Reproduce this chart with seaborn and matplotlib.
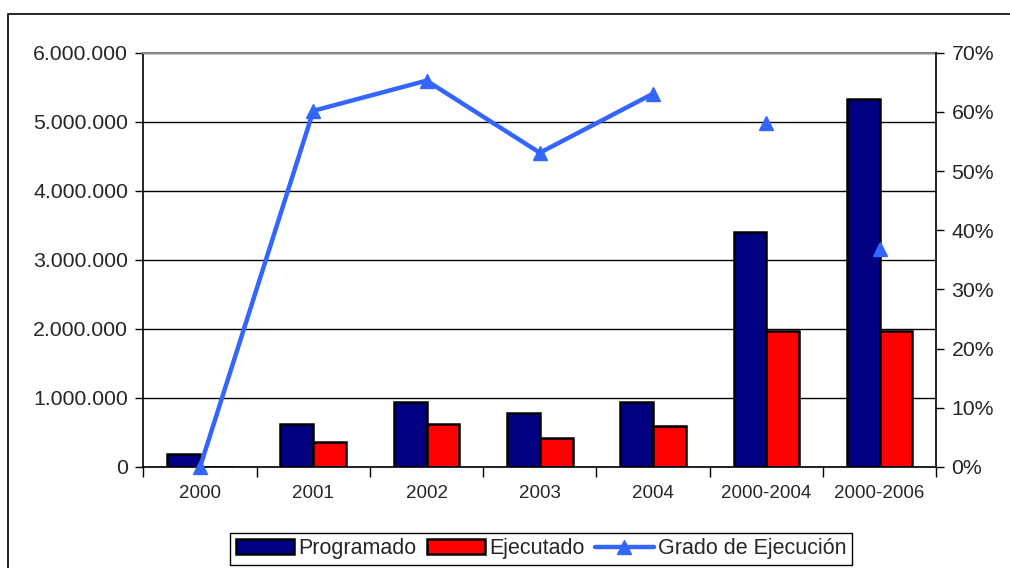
import matplotlib
matplotlib.use("Agg")
import matplotlib.pyplot as plt
from matplotlib.patches import Patch, Rectangle
from matplotlib.lines import Line2D
from matplotlib.ticker import FuncFormatter, FixedLocator
import seaborn as sns
import pandas as pd
import numpy as np

# Data
periodos = ["2000", "2001", "2002", "2003", "2004", "2000-2004", "2000-2006"]
programado = [185000, 617000, 946000, 777000, 936000, 3405000, 5330000]
ejecutado = [0, 367000, 628000, 415000, 588000, 1970000, 1970000]
grado = [0.0, 0.602, 0.653, 0.531, 0.631, 0.581, 0.368]

COLORS = {"prog": "#000080", "ejec": "#FF0000", "grado": "#3366FF"}

sns.set_theme(style="white")
plt.rcParams["font.family"] = ["Liberation Sans", "DejaVu Sans"]

df = pd.DataFrame({
    "periodo": periodos * 2,
    "valor": programado + ejecutado,
    "serie": ["Programado"] * len(periodos) + ["Ejecutado"] * len(periodos),
})

fig = plt.figure(figsize=(10.1, 5.68), dpi=100)
ax = fig.add_axes([0.142, 0.178, 0.785, 0.729])

sns.barplot(data=df, x="periodo", y="valor", hue="serie", order=periodos,
            palette=[COLORS["prog"], COLORS["ejec"]], width=0.58, gap=0,
            edgecolor="black", linewidth=1.8, saturation=1, legend=False, ax=ax)

ax.set_ylim(0, 6000000)
ax.set_xlim(-0.5, len(periodos) - 0.5)
ax.set_yticks(np.arange(0, 6000001, 1000000))
ax.yaxis.set_major_formatter(FuncFormatter(lambda v, p: f"{int(v):,}".replace(",", ".")))
ax.set_xlabel("")
ax.set_ylabel("")
ax.set_axisbelow(True)
ax.yaxis.grid(True, color="black", linewidth=1)

# category boundaries as tick marks
ax.xaxis.set_minor_locator(FixedLocator(np.arange(-0.5, len(periodos), 1.0)))
ax.tick_params(axis="x", which="major", length=0, labelsize=13.5, pad=13)
ax.tick_params(axis="x", which="minor", length=7, width=1, color="black", direction="out", bottom=True)
ax.tick_params(axis="y", length=6, width=1, color="black", direction="out", left=True, labelsize=15.3, pad=5)

for s in ["left", "bottom"]:
    ax.spines[s].set_color("black")
    ax.spines[s].set_linewidth(1.2)
ax.spines["top"].set_color("#888888")
ax.spines["top"].set_linewidth(1.5)
ax.spines["right"].set_visible(False)

# right axis: grado de ejecucion
ax2 = ax.twinx()
x = np.arange(len(periodos))
ax2.plot(x[:5], grado[:5], color=COLORS["grado"], linewidth=3.2,
         marker="^", markersize=10, clip_on=False)
ax2.plot(x[5:], grado[5:], color=COLORS["grado"], linestyle="none",
         marker="^", markersize=10, clip_on=False)
ax2.set_ylim(0, 0.7)
ax2.set_yticks(np.arange(0, 0.71, 0.1))
ax2.yaxis.set_major_formatter(FuncFormatter(lambda v, p: f"{v * 100:.0f}%"))
ax2.tick_params(axis="y", length=6, width=1, color="black", direction="out", right=True, labelsize=15.3, pad=5)
for s in ["left", "top", "bottom"]:
    ax2.spines[s].set_visible(False)
ax2.spines["right"].set_color("black")
ax2.spines["right"].set_linewidth(1.2)

handles = [
    Patch(facecolor=COLORS["prog"], edgecolor="black", linewidth=1.8, label="Programado"),
    Patch(facecolor=COLORS["ejec"], edgecolor="black", linewidth=1.8, label="Ejecutado"),
    Line2D([], [], color=COLORS["grado"], linewidth=3.2, marker="^", markersize=10,
           label="Grado de Ejecución"),
]
leg = fig.legend(handles=handles, loc="center", bbox_to_anchor=(0.5356, 0.034), ncol=3,
                 fontsize=15.5, frameon=True, fancybox=False, framealpha=1,
                 handlelength=2.7, handletextpad=0.2, columnspacing=0.5,
                 borderpad=0.25, handleheight=0.7)
leg.get_frame().set_edgecolor("black")
leg.get_frame().set_linewidth(1)

# outer chart frame
fig.add_artist(Rectangle((8 / 1010, -0.2), 1.2, 1.2 - 14 / 568,
                         transform=fig.transFigure, fill=False,
                         edgecolor="black", linewidth=1.2, clip_on=False))

fig.savefig("out.png", dpi=100)
